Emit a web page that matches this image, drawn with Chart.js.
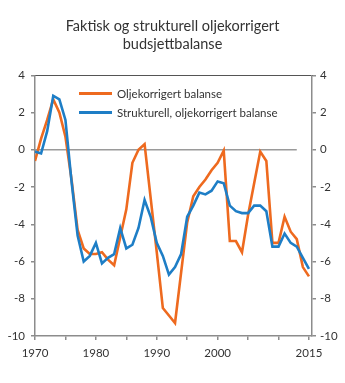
<!DOCTYPE html>
<html>
<head>
<meta charset="utf-8">
<script src="https://cdn.jsdelivr.net/npm/chart.js@4.4.1/dist/chart.umd.min.js"></script>
<style>
html,body{margin:0;padding:0;background:#fff;}
#wrap{position:relative;width:345px;height:383px;}
#legend{position:absolute;left:79px;top:84px;font-family:Lato, "Open Sans", sans-serif;font-size:11.5px;color:#333;}
#legend .item{display:flex;align-items:center;height:19px;white-space:nowrap;}
#legend .swatch{display:inline-block;width:33px;height:3px;margin-right:5px;}
</style>
</head>
<body>
<div id="wrap">
<canvas id="c" width="345" height="383"></canvas>
<div id="legend"></div>
</div>
<script>
const titleLines = ["Faktisk og strukturell oljekorrigert", "budsjettbalanse"];
const years = [1970,1971,1972,1973,1974,1975,1976,1977,1978,1979,
               1980,1981,1982,1983,1984,1985,1986,1987,1988,1989,
               1990,1991,1992,1993,1994,1995,1996,1997,1998,1999,
               2000,2001,2002,2003,2004,2005,2006,2007,2008,2009,
               2010,2011,2012,2013,2014,2015];
const seriesNames = ["Oljekorrigert balanse", "Strukturell, oljekorrigert balanse"];
const oljekorrigert = [-0.6,0.6,1.6,2.7,2.0,0.7,-1.6,-4.3,-5.3,-5.6,
                       -5.6,-5.5,-5.9,-6.2,-4.7,-3.2,-0.7,0.0,0.3,-2.6,
                       -5.5,-8.5,-8.9,-9.3,-6.6,-3.9,-2.5,-2.0,-1.6,-1.1,
                       -0.7,-0.05,-4.9,-4.9,-5.5,-3.5,-1.8,-0.1,-0.6,-5.0,
                       -5.0,-3.6,-4.4,-4.8,-6.3,-6.8];
const strukturell = [-0.1,-0.2,1.0,2.9,2.7,1.6,-1.7,-4.6,-6.0,-5.7,
                     -5.0,-6.1,-5.8,-5.6,-4.2,-5.3,-5.1,-4.2,-2.7,-3.6,
                     -5.0,-5.7,-6.7,-6.3,-5.6,-3.6,-3.0,-2.3,-2.4,-2.2,
                     -1.7,-1.8,-3.0,-3.3,-3.4,-3.4,-3.0,-3.0,-3.3,-5.2,
                     -5.2,-4.5,-5.0,-5.2,-5.8,-6.4];
const zeroLineYears = [1970, 2013];
const zeroLineValues = [0, 0];
const xTickValues = [1970,1975,1980,1985,1990,1995,2000,2005,2010,2015];
const xTickLabels = ["1970","","1980","","1990","","2000","","","2015"];
const yTickValues = [-10,-8,-6,-4,-2,0,2,4];

const ORANGE = "#EE6A1F";
const BLUE = "#1E7EC6";
const AXIS = "#8c8c8c";
const TEXT = "#333333";
const FONT = 'Lato, "Open Sans", sans-serif';

const toXY = (xs, ys) => xs.map((x, i) => ({x: x, y: ys[i]}));

const yAxisBase = (pos, width) => ({
  type: 'linear', position: pos, min: -10, max: 4,
  afterBuildTicks: s => { s.ticks = yTickValues.map(v => ({value: v})); },
  afterFit: s => { s.width = width; },
  grid: {drawOnChartArea: false, drawTicks: true, tickLength: 4, color: AXIS, lineWidth: 1.5},
  border: {display: true, color: AXIS, width: 1.5},
  ticks: {color: TEXT, font: {family: FONT, size: 11.5}, padding: pos === 'left' ? 6 : 4,
          callback: v => String(v)}
});

new Chart(document.getElementById('c'), {
  type: 'line',
  data: {
    datasets: [
      {label: 'zero', data: toXY(zeroLineYears, zeroLineValues), borderColor: '#9a9a9a', borderWidth: 1.6,
       pointRadius: 0, order: 3},
      {label: seriesNames[0], data: toXY(years, oljekorrigert), borderColor: ORANGE, borderWidth: 2.6,
       pointRadius: 0, tension: 0, order: 2},
      {label: seriesNames[1], data: toXY(years, strukturell), borderColor: BLUE, borderWidth: 2.6,
       pointRadius: 0, tension: 0, order: 1}
    ]
  },
  options: {
    responsive: false,
    animation: false,
    devicePixelRatio: 1,
    layout: {padding: {left: 0, right: 0, top: 0, bottom: 0}},
    plugins: {
      legend: {display: false},
      tooltip: {enabled: false},
      title: {display: true, text: titleLines, color: TEXT,
              font: {family: FONT, size: 14.5, weight: 'normal', lineHeight: 1.25},
              padding: {top: 17, bottom: 22}}
    },
    scales: {
      x: {
        type: 'linear', position: 'bottom', min: 1970, max: 2015.5,
        afterBuildTicks: s => { s.ticks = xTickValues.map(v => ({value: v})); },
        afterFit: s => { s.height = 47; },
        grid: {drawOnChartArea: false, drawTicks: true, tickLength: 4, color: AXIS, lineWidth: 1.5},
        border: {display: true, color: AXIS, width: 1.5},
        ticks: {color: TEXT, font: {family: FONT, size: 11.5}, padding: 6, maxRotation: 0, autoSkip: false,
                callback: (v, i) => xTickLabels[i]}
      },
      xTop: {
        type: 'linear', position: 'top', min: 1970, max: 2015.5,
        afterFit: s => { s.height = 0; },
        grid: {drawOnChartArea: false, drawTicks: false},
        border: {display: true, color: '#555555', width: 1},
        ticks: {display: false}
      },
      y: yAxisBase('left', 35),
      y2: yAxisBase('right', 33)
    }
  }
});

const leg = document.getElementById('legend');
[[seriesNames[0], ORANGE], [seriesNames[1], BLUE]].forEach(([name, col]) => {
  const d = document.createElement('div');
  d.className = 'item';
  const sw = document.createElement('span');
  sw.className = 'swatch';
  sw.style.background = col;
  d.appendChild(sw);
  d.appendChild(document.createTextNode(name));
  leg.appendChild(d);
});
</script>
</body>
</html>
